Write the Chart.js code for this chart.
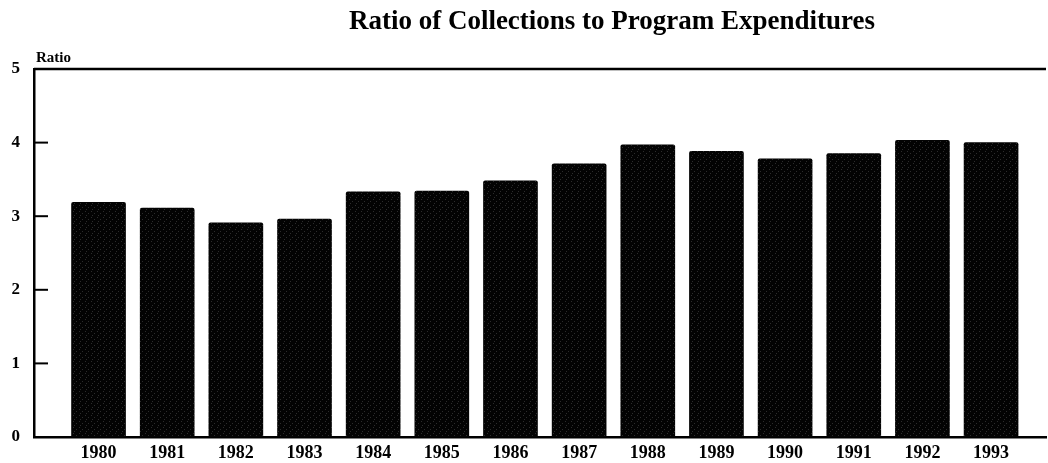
<!DOCTYPE html>
<html>
<head>
<meta charset="utf-8">
<script src="https://cdn.jsdelivr.net/npm/chart.js@4"></script>
<style>
  body { margin: 0; background: #fff; }
  #wrap { width: 1048px; height: 463px; position: relative; }
</style>
</head>
<body>
<div id="wrap"><canvas id="myChart"></canvas></div>
<script>
// data
const years = ['1980', '1981', '1982', '1983', '1984', '1985', '1986', '1987', '1988', '1989', '1990', '1991', '1992', '1993']
const ratios = [3.19, 3.11, 2.91, 2.96, 3.33, 3.34, 3.48, 3.71, 3.97, 3.88, 3.78, 3.85, 4.03, 4.00]
const yTicks = [0, 1, 2, 3, 4, 5]
const titulo = 'Ratio of Collections to Program Expenditures'
const yLabel = 'Ratio'

const serif = '"Liberation Serif", "DejaVu Serif", serif'

// dithered fill for the bars
function barPattern() {
    const c = document.createElement('canvas')
    c.width = 6
    c.height = 6
    const g = c.getContext('2d')
    g.fillStyle = '#030303'
    g.fillRect(0, 0, 6, 6)
    g.fillStyle = '#2c2c2c'
    g.fillRect(1, 1, 1, 1)
    g.fillRect(4, 3, 1, 1)
    g.fillRect(2, 5, 1, 1)
    return g.createPattern(c, 'repeat')
}

// titulo, etiqueta "Ratio", linea superior y marcas del eje y hacia adentro
const extras = {
    id: 'extras',
    afterDraw(chart) {
        const { ctx, chartArea } = chart
        const y = chart.scales.y
        ctx.save()
        ctx.fillStyle = '#000'
        ctx.textBaseline = 'middle'
        ctx.textAlign = 'center'
        ctx.font = 'bold 27px ' + serif
        ctx.fillText(titulo, 612, 22)
        ctx.textAlign = 'left'
        ctx.font = 'bold 15px ' + serif
        ctx.fillText(yLabel, 36, 58)

        ctx.strokeStyle = '#000'
        ctx.lineWidth = 2.5
        ctx.beginPath()
        ctx.moveTo(chartArea.left, chartArea.top)
        ctx.lineTo(chartArea.right, chartArea.top)
        ctx.stroke()

        ctx.lineWidth = 2
        yTicks.slice(1, -1).forEach(v => {
            const py = y.getPixelForValue(v)
            ctx.beginPath()
            ctx.moveTo(chartArea.left, py)
            ctx.lineTo(chartArea.left + 14, py)
            ctx.stroke()
        })
        ctx.restore()
    }
}

const ctx = document.getElementById('myChart').getContext('2d')

const myChart = new Chart(ctx, {
    type: 'bar',
    data: {
        datasets: [{
            data: years.map((yr, i) => ({ x: i, y: ratios[i] })),
            backgroundColor: barPattern(),
            borderWidth: 0,
            borderRadius: 2,
            borderSkipped: 'bottom',
            barThickness: 54
        }]
    },
    options: {
        responsive: true,
        maintainAspectRatio: false,
        animation: false,
        layout: { padding: { top: 69, right: 2, left: 0, bottom: 0 } },
        plugins: {
            legend: { display: false },
            tooltip: { enabled: false }
        },
        scales: {
            x: {
                type: 'linear',
                offset: false,
                min: -0.94,
                max: 13.8,
                afterBuildTicks: s => { s.ticks = years.map((yr, i) => ({ value: i })) },
                afterFit: s => { s.height = 26 },
                grid: { display: false, drawTicks: false, offset: false },
                border: { display: true, color: '#000', width: 2.5 },
                ticks: {
                    callback: v => years[v],
                    color: '#000',
                    padding: 6,
                    maxRotation: 0,
                    autoSkip: false,
                    font: { family: serif, size: 18, weight: 'bold' }
                }
            },
            y: {
                min: 0,
                max: 5,
                afterBuildTicks: s => { s.ticks = yTicks.map(v => ({ value: v })) },
                afterFit: s => { s.width = 34 },
                grid: { display: false, drawTicks: false },
                border: { display: true, color: '#000', width: 2.5 },
                ticks: {
                    color: '#000',
                    padding: 14,
                    font: { family: serif, size: 17, weight: 'bold' }
                }
            }
        }
    },
    plugins: [extras]
})
</script>
</body>
</html>
